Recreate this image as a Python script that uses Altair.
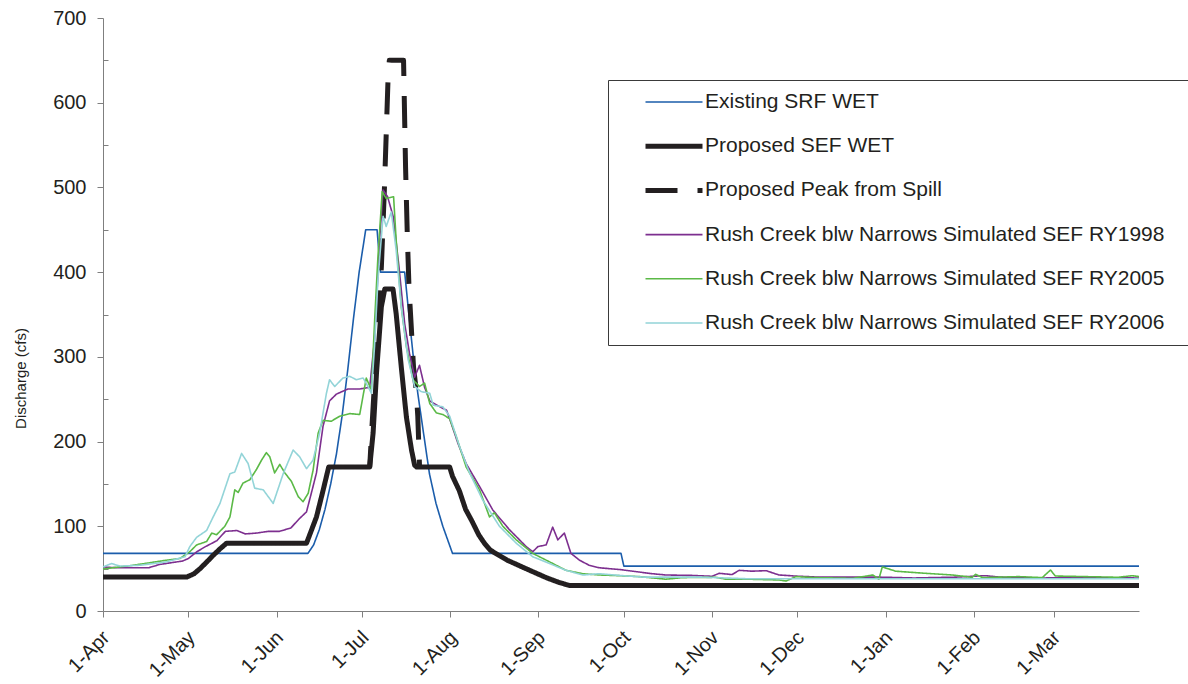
import altair as alt
import pandas as pd

# Water-year start; every series is keyed by days after 1-Apr
BASE_DATE = pd.Timestamp("2009-04-01")

SERIES = [
    "Existing SRF WET",
    "Proposed SEF WET",
    "Proposed Peak from Spill",
    "Rush Creek blw Narrows Simulated SEF RY1998",
    "Rush Creek blw Narrows Simulated SEF RY2005",
    "Rush Creek blw Narrows Simulated SEF RY2006",
]
COLORS = ["#1b5dab", "#231f20", "#231f20", "#7d2f8f", "#5bb947", "#93d4d8"]
WIDTHS = [1.6, 5, 5, 1.6, 1.6, 1.6]
DASHES = [[1, 0], [1, 0], [32, 20], [1, 0], [1, 0], [1, 0]]

# (day after 1-Apr, discharge cfs)
EXISTING_SRF = [
    (0, 68), (72, 68), (74, 78), (76, 96), (78, 120), (80, 150), (82, 185),
    (84, 230), (86, 285), (88, 345), (90, 400), (92.3, 450), (96.3, 450),
    (97.5, 400), (106, 400), (107.2, 359), (108.9, 304), (110.6, 257),
    (112.4, 215), (114.7, 162), (117, 127), (119.4, 100), (122.8, 68),
    (182, 68), (183, 53), (364, 53),
]

PROPOSED_SEF = [
    (0, 40), (29.4, 40), (32, 44), (34.1, 50), (36.5, 58), (38.8, 66),
    (41, 73), (43.4, 80), (71.5, 80), (73.2, 95), (75, 111), (77.3, 142),
    (79.3, 170), (93.7, 170), (94.9, 210), (96.1, 281), (97.8, 359),
    (99, 380), (101.9, 380), (103, 351), (104.8, 288), (106.6, 229),
    (108.4, 190), (109.5, 172), (110.2, 170), (121.8, 170), (122.8, 159),
    (125.2, 142), (127.4, 120), (129.8, 105), (132, 90), (134, 80),
    (136, 72), (139, 66), (142, 60), (148.6, 50), (156, 39), (160, 34),
    (164, 30), (364, 30),
]

PEAK_FROM_SPILL = [
    (93.7, 170), (94.3, 206), (96, 304), (97.8, 406), (98.9, 501),
    (100.1, 623), (100.6, 650), (105.6, 650), (106.3, 525), (106.9, 446),
    (107.5, 383), (108.3, 336), (109.1, 288), (110, 262), (110.6, 230),
    (111.2, 172),
]

RY1998 = [
    (0, 52), (5, 51), (10, 51), (16, 51), (20, 55), (24, 57), (28, 59),
    (30, 62), (33, 70), (36, 76), (40, 83), (43, 94), (47, 95), (50, 91),
    (54, 92), (58, 94), (62, 94), (66, 98), (69, 109), (71.5, 117),
    (73.8, 147), (75, 163), (77.3, 218), (79.6, 248), (82, 256), (86, 262),
    (90, 262), (93.7, 264), (95.4, 320), (97.2, 438), (98.4, 497),
    (100, 489), (102, 465), (104, 406), (106, 339), (107.7, 304),
    (109.5, 276), (111.2, 290), (113, 264), (114.8, 248), (118.4, 241),
    (120.7, 237), (121.8, 227), (124.7, 198), (127.6, 174), (132.3, 147),
    (137, 119), (142.8, 96), (148.7, 76), (151, 70), (152.8, 76),
    (155.7, 78), (158, 99), (159.8, 84), (162.1, 92), (164.4, 68),
    (167.4, 60), (170.8, 54), (174.4, 51), (181.4, 49), (188.4, 46),
    (193, 44), (197.8, 42.5), (207, 42), (214, 41), (216.5, 44.5),
    (221, 43), (223.5, 48), (228, 47), (233, 47.6), (237.5, 42.5),
    (244.6, 41), (251.6, 40), (262, 40), (272.6, 40), (285, 39), (300, 40),
    (310, 41.7), (315, 40), (330, 39), (345, 39.5), (364, 39),
]

RY2005 = [
    (0, 49.6), (10.6, 54), (16.5, 57), (22.3, 60), (27, 62), (30.5, 70),
    (32.9, 78), (36.4, 82), (38.2, 92), (39.9, 90), (42.8, 100),
    (44.6, 111), (46.3, 143), (47.5, 140), (49.2, 151), (51.6, 155),
    (53.9, 167), (55.7, 178), (57.4, 187), (58.6, 182), (60.3, 163),
    (62.1, 173), (63.9, 163), (66.2, 153), (68.6, 135), (70.3, 129),
    (72.1, 139), (73.8, 166), (75.6, 210), (77.3, 225), (80.2, 224),
    (83.2, 230), (86.7, 233), (90.2, 232), (92.5, 275), (94.3, 261),
    (95.4, 340), (96.6, 418), (98.1, 495), (99.5, 487), (102.1, 489),
    (103, 438), (104.8, 359), (106.6, 312), (108.9, 273), (111.2, 265),
    (113, 269), (114.8, 245), (117.1, 234), (119.4, 232), (121.8, 227),
    (124.1, 206), (127.6, 170), (132.3, 143), (135.8, 111), (137.5, 116),
    (140.5, 100), (145.2, 84), (151, 68), (156.9, 58), (162.7, 48),
    (168.6, 44), (174.4, 42.5), (181.4, 41.7), (188.4, 40.6), (197.8, 37.5),
    (203.6, 39.4), (215.3, 39.8), (218.9, 37.5), (227.1, 37.5),
    (237.5, 36.6), (240, 35.4), (243.5, 40.6), (250.5, 39.4), (263.4, 38.6),
    (270.5, 42.5), (272.6, 37.5), (273.8, 52), (278.5, 47), (286.7, 45),
    (298.4, 42.5), (305.4, 39.8), (306.6, 43.3), (309, 39.4), (321.8, 40.6),
    (330, 39.4), (332.9, 48.4), (334.6, 41.3), (345.1, 40.6), (356.8, 39.8),
    (361.5, 41.7), (364, 40.6),
]

RY2006 = [
    (0, 52), (3, 56), (6, 53), (13, 54), (22.3, 58), (28.8, 64), (30.5, 76),
    (32.9, 87), (36.4, 95), (38.7, 111), (41.1, 127), (44.6, 162),
    (46.3, 164), (48.7, 186), (51, 174), (53.3, 145), (56.3, 143),
    (59.8, 127), (63.3, 162), (66.8, 190), (69.1, 182), (71.5, 168),
    (73.8, 178), (76.1, 210), (78.5, 257), (79.6, 273), (81.4, 265),
    (84.3, 275), (86.7, 277), (89, 273), (91.4, 275), (93.1, 265),
    (94.3, 257), (95.4, 312), (96.6, 391), (98.4, 466), (99.5, 454),
    (101.3, 471), (103, 426), (104.8, 359), (107.2, 297), (109.5, 265),
    (111.8, 259), (114.8, 257), (116, 243), (119.4, 241), (121.8, 230),
    (125.3, 194), (128.8, 163), (133.4, 131), (139.3, 100), (145.2, 80),
    (151, 64), (156.9, 56), (162.7, 48), (168.6, 42.5), (174.4, 44),
    (181.4, 42), (190, 40), (210, 40), (227, 38), (245, 38), (272, 38),
    (300, 38), (330, 38), (364, 38),
]

Y_TICKS = [0, 100, 200, 300, 400, 500, 600, 700]
Y_MINOR_TICKS = [50, 150, 250, 350, 450, 550, 650]
MONTH_TICKS = [(2009, m) for m in range(4, 13)] + [(2010, m) for m in range(1, 4)]

FONT = "Liberation Sans"
TEXT = "#231f20"
AXIS_GREY = "#7f7f7f"
# blank tail for legend labels (ends in a zero-width space so it survives trimming)
LABEL_TAIL = "\u00a0" * 4 + "\u200b"


def to_frame(name, points):
    days = [p[0] for p in points]
    return pd.DataFrame({
        "series": name,
        "date": BASE_DATE + pd.to_timedelta(days, unit="D"),
        "cfs": [p[1] for p in points],
    })


data = pd.concat(
    [to_frame(n, pts) for n, pts in zip(
        SERIES, [EXISTING_SRF, PROPOSED_SEF, PEAK_FROM_SPILL, RY1998, RY2005, RY2006])],
    ignore_index=True,
)

x_enc = alt.X(
    "date:T",
    scale=alt.Scale(domain=[alt.DateTime(year=2009, month=4, date=1),
                            alt.DateTime(year=2010, month=3, date=31)]),
    axis=alt.Axis(
        values=[alt.DateTime(year=y, month=m, date=1) for y, m in MONTH_TICKS],
        format="%-d-%b", labelAngle=-45, labelFlush=False, labelOverlap=False,
        title=None, grid=False, tickSize=6, labelPadding=10, labelOffset=-4,
        labelFontSize=20, labelFont=FONT, labelColor=TEXT,
        domainColor=AXIS_GREY, tickColor=AXIS_GREY,
    ),
)

legend = alt.Legend(
    title=None, orient="none", legendX=505, legendY=62,
    symbolType="stroke", symbolSize=3249, symbolOffset=33,
    labelFontSize=21, labelFont=FONT, labelColor=TEXT, labelOffset=0,
    labelLimit=800, padding=2, rowPadding=4.2, clipHeight=40,
    strokeColor="#3a3a3a", fillColor="white",
    labelExpr="datum.label + '" + LABEL_TAIL + "'",
)

main_axis = alt.Axis(
    values=Y_TICKS, title="Discharge (cfs)", grid=False, tickSize=6,
    labelPadding=11, labelFontSize=20, labelFont=FONT, labelColor=TEXT,
    titleX=-83, titleY=360, titleBaseline="middle",
    domainColor=AXIS_GREY, tickColor=AXIS_GREY, orient="left",
)
minor_axis = alt.Axis(
    values=Y_MINOR_TICKS, title=None, grid=False, labels=False, domain=False,
    tickSize=5, offset=-5, tickColor=AXIS_GREY, orient="left",
)

layers = []
for i, name in enumerate(SERIES):
    if i == 0:
        y_axis = main_axis
    elif i == len(SERIES) - 1:
        y_axis = minor_axis
    else:
        y_axis = None
    # shift the dash pattern so a dash sits on the flat 650 cfs crest
    mark = alt.MarkDef(type="line", strokeJoin="round",
                       strokeDashOffset=11 if name == "Proposed Peak from Spill" else 0)
    layers.append(
        alt.Chart(data, mark=mark)
        .transform_filter(alt.datum.series == name)
        .encode(
            x=x_enc,
            y=alt.Y("cfs:Q", scale=alt.Scale(domain=[0, 700], nice=False), axis=y_axis),
            color=alt.Color("series:N", sort=SERIES,
                            scale=alt.Scale(domain=SERIES, range=COLORS), legend=legend),
            strokeWidth=alt.StrokeWidth("series:N", sort=SERIES,
                                        scale=alt.Scale(type="ordinal", domain=SERIES, range=WIDTHS)),
            strokeDash=alt.StrokeDash("series:N", sort=SERIES,
                                      scale=alt.Scale(domain=SERIES, range=DASHES)),
        )
    )

chart = (
    alt.layer(*layers)
    .resolve_axis(y="independent")
    .properties(
        width=1036, height=593, autosize="none",
        padding={"left": 103, "top": 18, "right": 49, "bottom": 73},
        background="white",
    )
    .configure_view(stroke=None)
    .configure_axis(titleFontSize=15, titleFont=FONT, titleFontWeight="normal",
                    titleColor=TEXT)
)

chart.save("out.html", embed_options={"renderer": "svg", "actions": False})
